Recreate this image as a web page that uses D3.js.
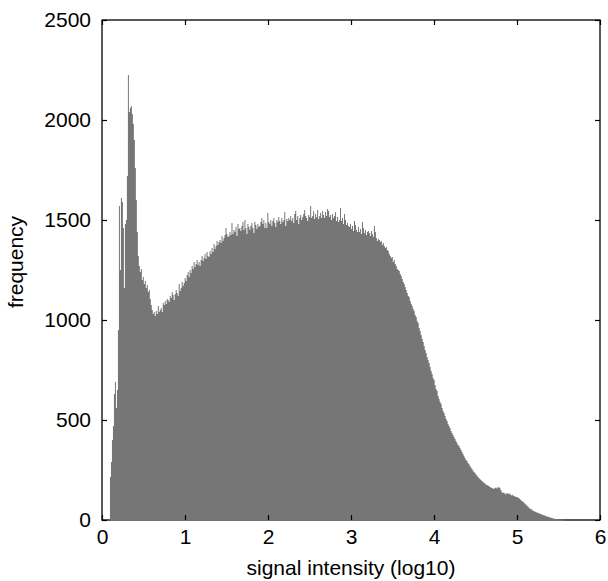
<!DOCTYPE html>
<html>
<head>
<meta charset="utf-8">
<script src="https://cdn.jsdelivr.net/npm/d3@7"></script>
<style>
  html, body { margin: 0; padding: 0; background: #fff; }
  text { font-family: "Liberation Sans", Arial, Helvetica, sans-serif; fill: #000; }
</style>
</head>
<body>
<div id="chart"></div>
<script>
// histogram bins: start of first bin and bin width (log10 units)
const binStart = 0.096;
const binWidth = 0.012;

// frequency per bin
const counts = [
  215, 290, 400, 470, 630, 690, 560, 650, 950, 1570,
  1250, 1610, 1590, 1460, 1160, 1480, 1500, 1720, 2225, 2040,
  2060, 2070, 2030, 1980, 1900, 1760, 1600, 1440, 1320, 1270,
  1240, 1255, 1200, 1215, 1180, 1195, 1160, 1175, 1140, 1150,
  1105, 1075, 1050, 1030, 1040, 1020, 1045, 1030, 1070, 1040,
  1050, 1060, 1040, 1085, 1075, 1095, 1080, 1105, 1100, 1090,
  1120, 1110, 1140, 1125, 1100, 1130, 1150, 1135, 1120, 1180,
  1145, 1160, 1190, 1170, 1185, 1210, 1195, 1225, 1240, 1215,
  1250, 1235, 1270, 1255, 1290, 1265, 1280, 1300, 1275, 1290,
  1270, 1300, 1320, 1295, 1310, 1330, 1305, 1340, 1320, 1315,
  1345, 1330, 1360, 1340, 1380, 1355, 1370, 1395, 1375, 1390,
  1400, 1385, 1420, 1395, 1410, 1425, 1460, 1430, 1415, 1420,
  1440, 1425, 1485, 1430, 1450, 1440, 1465, 1420, 1480, 1455,
  1460, 1445, 1470, 1490, 1450, 1500, 1460, 1430, 1480, 1465,
  1450, 1470, 1485, 1460, 1435, 1490, 1475, 1455, 1480, 1465,
  1470, 1490, 1510, 1480, 1500, 1460, 1485, 1460, 1535, 1490,
  1480, 1500, 1470, 1495, 1510, 1485, 1465, 1500, 1490, 1515,
  1495, 1480, 1510, 1490, 1500, 1540, 1470, 1505, 1495, 1510,
  1500, 1520, 1495, 1510, 1485, 1530, 1545, 1500, 1520, 1480,
  1510, 1525, 1500, 1515, 1530, 1550, 1520, 1510, 1495, 1525,
  1515, 1570, 1510, 1520, 1545, 1505, 1530, 1515, 1550, 1505,
  1520, 1535, 1510, 1545, 1525, 1510, 1540, 1520, 1555, 1545,
  1515, 1525, 1500, 1530, 1510, 1520, 1540, 1495, 1515, 1490,
  1500, 1560, 1495, 1510, 1480, 1530, 1500, 1475, 1485, 1470,
  1465, 1480, 1455, 1470, 1445, 1495, 1475, 1450, 1440, 1465,
  1440, 1455, 1430, 1490, 1460, 1435, 1450, 1425, 1440, 1445,
  1435, 1420, 1445, 1430, 1415, 1470, 1440, 1410, 1395, 1405,
  1400, 1390, 1395, 1375, 1385, 1370, 1360, 1365, 1350, 1345,
  1330, 1320, 1310, 1315, 1290, 1300, 1280, 1270, 1255, 1250,
  1245, 1230, 1220, 1205, 1190, 1180, 1165, 1150, 1135, 1120,
  1115, 1095, 1080, 1070, 1055, 1045, 1025, 1015, 995, 985,
  960, 945, 925, 905, 890, 870, 850, 835, 815, 800,
  785, 765, 745, 730, 710, 700, 675, 655, 645, 620,
  605, 590, 580, 560, 545, 535, 520, 505, 495, 480,
  470, 460, 445, 435, 425, 415, 405, 395, 385, 375,
  370, 360, 350, 340, 330, 320, 310, 300, 295, 285,
  280, 270, 262, 255, 248, 240, 235, 228, 222, 215,
  210, 205, 200, 195, 190, 186, 182, 178, 175, 172,
  170, 165, 162, 160, 157, 155, 160, 163, 158, 162,
  165, 160, 150, 140, 135, 138, 132, 128, 135, 132,
  130, 133, 125, 122, 126, 120, 118, 116, 115, 112,
  110, 105, 100, 95, 92, 88, 82, 78, 72, 68,
  62, 58, 55, 52, 48, 45, 42, 40, 38, 36,
  34, 32, 30, 28, 26, 24, 22, 20, 18, 17,
  15, 13, 12, 10, 9, 8, 6, 5, 4, 4,
  3, 3, 2, 2, 1, 1
];

const xTicks = [0, 1, 2, 3, 4, 5, 6];
const yTicks = [0, 500, 1000, 1500, 2000, 2500];

const xLabel = 'signal intensity (log10)';
const yLabel = 'frequency';

// layout
const W = 608, H = 581;
const margin = { top: 20, right: 8, bottom: 61, left: 102 };
const width = W - margin.left - margin.right;
const height = H - margin.top - margin.bottom;
const fontSize = 21;

const svg = d3.select('#chart')
  .append('svg')
  .attr('width', W)
  .attr('height', H);

const g = svg.append('g')
  .attr('transform', `translate(${margin.left},${margin.top})`);

const x = d3.scaleLinear().domain([0, 6]).range([0, width]);
const y = d3.scaleLinear().domain([0, 2500]).range([height, 0]);

// one step point per bin, plus the closing edge of the last bin
const bins = counts.map((c, i) => ({ x0: binStart + i * binWidth, count: c }));
bins.push({ x0: binStart + counts.length * binWidth, count: 0 });

// frame first so the bars sit over the bottom edge like the original
g.append('rect')
  .attr('width', width)
  .attr('height', height)
  .attr('fill', 'none')
  .attr('stroke', '#000')
  .attr('stroke-width', 1.3);

// bars drawn as one stepped area, avoids seams between 1px bins
const area = d3.area()
  .x(d => x(d.x0))
  .y0(y(0) + 0.7)
  .y1(d => y(d.count))
  .curve(d3.curveStepAfter);

g.append('path')
  .datum(bins)
  .attr('d', area)
  .attr('fill', '#767676');

// axes, ticks pointing inward
const tick = 5;
const styleAxis = sel => {
  sel.select('.domain').remove();
  sel.selectAll('line').attr('stroke', '#000').attr('stroke-width', 1.2);
  sel.selectAll('text').attr('font-size', fontSize).attr('fill', '#000');
};

g.append('g')
  .attr('transform', `translate(0,${height})`)
  .call(d3.axisBottom(x).tickValues(xTicks).tickSize(-tick).tickPadding(9).tickFormat(d3.format('d')))
  .call(styleAxis);

g.append('g')
  .call(d3.axisTop(x).tickValues(xTicks).tickSize(-tick).tickFormat(''))
  .call(styleAxis);

g.append('g')
  .call(d3.axisLeft(y).tickValues(yTicks).tickSize(-tick).tickPadding(11).tickFormat(d3.format('d')))
  .call(styleAxis);

g.append('g')
  .attr('transform', `translate(${width},0)`)
  .call(d3.axisRight(y).tickValues(yTicks).tickSize(-tick).tickFormat(''))
  .call(styleAxis);

// axis titles
g.append('text')
  .attr('x', width / 2)
  .attr('y', height + 55)
  .attr('text-anchor', 'middle')
  .attr('font-size', fontSize)
  .text(xLabel);

g.append('text')
  .attr('transform', `translate(${-79},${height / 2 - 8}) rotate(-90)`)
  .attr('text-anchor', 'middle')
  .attr('font-size', fontSize)
  .text(yLabel);
</script>
</body>
</html>
